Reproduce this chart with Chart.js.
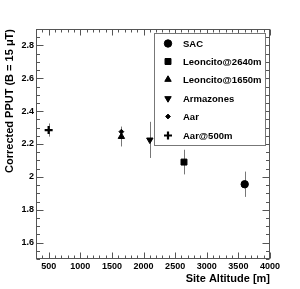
<!DOCTYPE html>
<html>
<head>
<meta charset="utf-8">
<script src="https://cdn.jsdelivr.net/npm/chart.js@4"></script>
<style>
  html, body { margin: 0; padding: 0; background: #fff; }
  #wrap { width: 300px; height: 289px; position: relative; }
</style>
</head>
<body>
<div id="wrap"><canvas id="ppChart"></canvas></div>
<script>
// 数据：各站点海拔与修正后的 PPUT
const sites = ['SAC', 'Leoncito@2640m', 'Leoncito@1650m', 'Armazones', 'Aar', 'Aar@500m'];
const altitude = [3600, 2640, 1650, 2100, 1650, 500];
const pput = [1.955, 2.09, 2.245, 2.225, 2.275, 2.285];
const pputErr = [0.077, 0.075, 0.06, 0.11, 0.03, 0.04];
const markers = ['circle', 'rect', 'triangle', 'triangle', 'rectRot', 'cross'];

const xTicks = [500, 1000, 1500, 2000, 2500, 3000, 3500, 4000];
const yTicks = [1.6, 1.8, 2, 2.2, 2.4, 2.6, 2.8];

const FONT = '"Liberation Sans", Arial, sans-serif';
const AXIS_COLOR = '#555';

function markerRadius(style) {
    if (style === 'rect') return 4.2;
    if (style === 'rectRot') return 2.4;
    if (style === 'cross') return 4;
    return 3.7;
}

const datasets = sites.map((name, i) => ({
    label: name,
    data: [{ x: altitude[i], y: pput[i] }],
    pointStyle: markers[i],
    rotation: i === 3 ? 180 : 0,
    pointRadius: markerRadius(markers[i]),
    backgroundColor: '#000',
    borderColor: '#000',
    borderWidth: markers[i] === 'cross' ? 2.2 : 1
}));

// 误差棒，画在点的下面
const errorBarPlugin = {
    id: 'errorBars',
    beforeDatasetsDraw(chart) {
        const ctx = chart.ctx;
        const xs = chart.scales.x, ys = chart.scales.y;
        ctx.save();
        ctx.strokeStyle = '#777';
        ctx.lineWidth = 1;
        altitude.forEach((alt, i) => {
            const px = Math.round(xs.getPixelForValue(alt)) + 0.5;
            ctx.beginPath();
            ctx.moveTo(px, ys.getPixelForValue(pput[i] - pputErr[i]));
            ctx.lineTo(px, ys.getPixelForValue(pput[i] + pputErr[i]));
            ctx.stroke();
        });
        ctx.restore();
    }
};

// ROOT 风格的边框和向内刻度
const frameTickPlugin = {
    id: 'frameTicks',
    afterDraw(chart) {
        const ctx = chart.ctx;
        const a = chart.chartArea;
        const xs = chart.scales.x, ys = chart.scales.y;
        const L = Math.round(a.left) + 0.5, R = Math.round(a.right) - 0.5;
        const T = Math.round(a.top) + 0.5, B = Math.round(a.bottom) - 0.5;
        ctx.save();
        ctx.strokeStyle = AXIS_COLOR;
        ctx.lineWidth = 1;
        ctx.strokeRect(L, T, R - L, B - T);

        ctx.beginPath();
        // x 方向刻度，每 100 一个小刻度
        for (let v = 300; v <= 4000; v += 100) {
            const len = v % 500 === 0 ? 6 : 3;
            const px = Math.round(xs.getPixelForValue(v)) + 0.5;
            ctx.moveTo(px, B); ctx.lineTo(px, B - len);
            ctx.moveTo(px, T); ctx.lineTo(px, T + len);
        }
        // y 方向刻度，每 0.05 一个小刻度
        for (let k = 30; k <= 58; k++) {
            const v = k / 20;
            const len = k % 4 === 0 ? 7 : 3.5;
            const py = Math.round(ys.getPixelForValue(v)) + 0.5;
            ctx.moveTo(L, py); ctx.lineTo(L + len, py);
            ctx.moveTo(R, py); ctx.lineTo(R - len, py);
        }
        ctx.stroke();
        ctx.restore();
    }
};

// 图例框（放在图内右上角）
const legendBoxPlugin = {
    id: 'legendBox',
    afterDraw(chart) {
        const ctx = chart.ctx;
        const box = { x: 154.5, y: 33.5, w: 111, h: 112 };
        ctx.save();
        ctx.fillStyle = '#fff';
        ctx.fillRect(box.x, box.y, box.w, box.h);
        ctx.strokeStyle = '#777';
        ctx.lineWidth = 1;
        ctx.strokeRect(box.x, box.y, box.w, box.h);

        ctx.font = 'bold 9.5px ' + FONT;
        ctx.textBaseline = 'middle';
        ctx.textAlign = 'left';
        const rowY = [43.5, 61.5, 79.5, 98.5, 116.5, 135.5];
        chart.data.datasets.forEach((ds, i) => {
            ctx.fillStyle = '#000';
            ctx.strokeStyle = '#000';
            ctx.lineWidth = ds.borderWidth;
            Chart.helpers.drawPoint(ctx, {
                pointStyle: ds.pointStyle,
                rotation: ds.rotation,
                radius: ds.pointRadius,
                borderWidth: ds.borderWidth
            }, 168, rowY[i]);
            ctx.fillStyle = '#000';
            ctx.fillText(ds.label, 183, rowY[i] + 0.5);
        });
        ctx.restore();
    }
};

new Chart(document.getElementById('ppChart'), {
    type: 'scatter',
    data: { datasets: datasets },
    options: {
        responsive: true,
        maintainAspectRatio: false,
        animation: false,
        layout: { padding: { top: 29, right: 30, left: 0, bottom: 0 } },
        plugins: {
            legend: { display: false },
            tooltip: { enabled: false }
        },
        scales: {
            x: {
                type: 'linear',
                min: 300,
                max: 4000,
                afterBuildTicks: scale => { scale.ticks = xTicks.map(v => ({ value: v })); },
                afterFit: scale => { scale.height = 30; },
                grid: { display: false, drawTicks: false },
                border: { display: false },
                ticks: {
                    autoSkip: false,
                    maxRotation: 0,
                    padding: 2,
                    color: '#000',
                    font: { family: FONT, size: 9, weight: 'bold' },
                    callback: v => String(v)
                },
                title: {
                    display: true,
                    text: 'Site Altitude [m]',
                    align: 'end',
                    color: '#000',
                    padding: { top: 0, bottom: 3 },
                    font: { family: FONT, size: 11, weight: 'bold' }
                }
            },
            y: {
                type: 'linear',
                min: 1.5,
                max: 2.9,
                afterBuildTicks: scale => { scale.ticks = yTicks.map(v => ({ value: v })); },
                afterFit: scale => { scale.width = 36; },
                grid: { display: false, drawTicks: false },
                border: { display: false },
                ticks: {
                    autoSkip: false,
                    padding: 2,
                    color: '#000',
                    font: { family: FONT, size: 9, weight: 'bold' },
                    callback: v => String(v)
                },
                title: {
                    display: true,
                    text: 'Corrected PPUT (B = 15 μT)',
                    align: 'end',
                    color: '#000',
                    padding: { top: 3, bottom: 0 },
                    font: { family: FONT, size: 11, weight: 'bold' }
                }
            }
        }
    },
    plugins: [errorBarPlugin, frameTickPlugin, legendBoxPlugin]
});
</script>
</body>
</html>
